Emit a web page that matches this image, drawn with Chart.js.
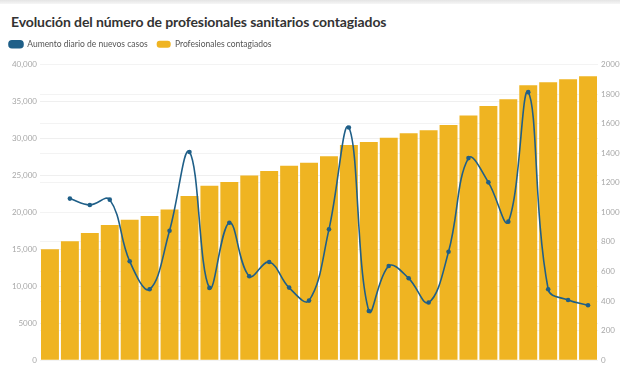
<!DOCTYPE html>
<html>
<head>
<meta charset="utf-8">
<script src="https://cdn.jsdelivr.net/npm/chart.js@4.4.1/dist/chart.umd.min.js"></script>
<style>
  body { margin: 0; background: #fff; width: 620px; height: 368px; overflow: hidden; font-family: Lato, sans-serif; }
  .topbar { position: absolute; left: 0; top: 0; width: 620px; height: 4px; background: linear-gradient(#e4e4e4, #f6f6f6); }
  h1 { position: absolute; left: 11px; top: 13px; margin: 0; font-family: Lato, sans-serif; font-size: 14px; font-weight: bold; color: #333; white-space: nowrap; letter-spacing: -0.1px; }
  #wrap { position: absolute; left: 0; top: 31px; width: 620px; height: 337px; }
</style>
</head>
<body>
<div class="topbar"></div>
<h1>Evolución del número de profesionales sanitarios contagiados</h1>
<div id="wrap"><canvas id="mycanvas"></canvas></div>
<script>
// datos
var dias = [];
for (var d = 1; d <= 28; d++) dias.push("Día " + d);

var profesionales = [15000, 16100, 17200, 18300, 19000, 19500, 20400, 22200, 23600, 24100,
                     25000, 25600, 26300, 26700, 27600, 29100, 29500, 30100, 30700, 31100,
                     31800, 33100, 34400, 35300, 37200, 37600, 38000, 38400];

var nuevos = [null, 1093, 1050, 1086, 669, 480, 876, 1408, 489, 930,
              568, 664, 491, 403, 885, 1574, 333, 637, 554, 390,
              734, 1367, 1203, 937, 1813, 480, 407, 372];

var azul = '#1f5f88';
var amarillo = '#efb422';
var gris = '#a8a8a8';

// un poco más de espacio debajo de la leyenda
var margenLeyenda = {
	id: 'margenLeyenda',
	beforeInit: function(chart) {
		var fit = chart.legend.fit;
		chart.legend.fit = function() {
			fit.bind(chart.legend)();
			this.height += 6;
		};
	}
};

var ctx = document.getElementById('mycanvas');

var grafico = new Chart(ctx, {
	data: {
		labels: dias,
		datasets: [
			{
				type: 'line',
				label: 'Aumento diario de nuevos casos',
				data: nuevos,
				yAxisID: 'y2',
				borderColor: azul,
				backgroundColor: azul,
				borderWidth: 1.6,
				pointRadius: 2.3,
				pointBackgroundColor: azul,
				pointBorderWidth: 0,
				tension: 0.4,
				order: 0
			},
			{
				type: 'bar',
				label: 'Profesionales contagiados',
				data: profesionales,
				yAxisID: 'y',
				backgroundColor: amarillo,
				barPercentage: 0.9,
				categoryPercentage: 1.0,
				order: 1
			}
		]
	},
	plugins: [margenLeyenda],
	options: {
		responsive: true,
		maintainAspectRatio: false,
		animation: false,
		layout: { padding: { left: 0, right: 0, top: 0, bottom: 5 } },
		plugins: {
			legend: {
				align: 'start',
				labels: {
					boxWidth: 14,
					boxHeight: 7,
					useBorderRadius: true,
					borderRadius: 3,
					padding: 9,
					color: '#555',
					font: { family: 'Lato, sans-serif', size: 8.5 }
				}
			},
			tooltip: { enabled: false }
		},
		scales: {
			x: { display: false },
			y: {
				position: 'left',
				min: 0, max: 40000,
				ticks: {
					stepSize: 5000,
					color: gris,
					font: { family: 'Lato, sans-serif', size: 8 },
					callback: function(v) { return v >= 10000 ? v.toLocaleString('en-US') : String(v); }
				},
				grid: { color: '#efefef', drawTicks: false },
				border: { display: false },
				afterFit: function(s) { s.width = 40; }
			},
			y2: {
				position: 'right',
				min: 0, max: 2000,
				ticks: {
					stepSize: 200,
					color: gris,
					font: { family: 'Lato, sans-serif', size: 8 },
					callback: function(v) { return String(v); }
				},
				grid: { color: '#f3f3f3', drawTicks: false },
				border: { display: false },
				afterFit: function(s) { s.width = 22; }
			}
		}
	}
});
</script>
</body>
</html>
